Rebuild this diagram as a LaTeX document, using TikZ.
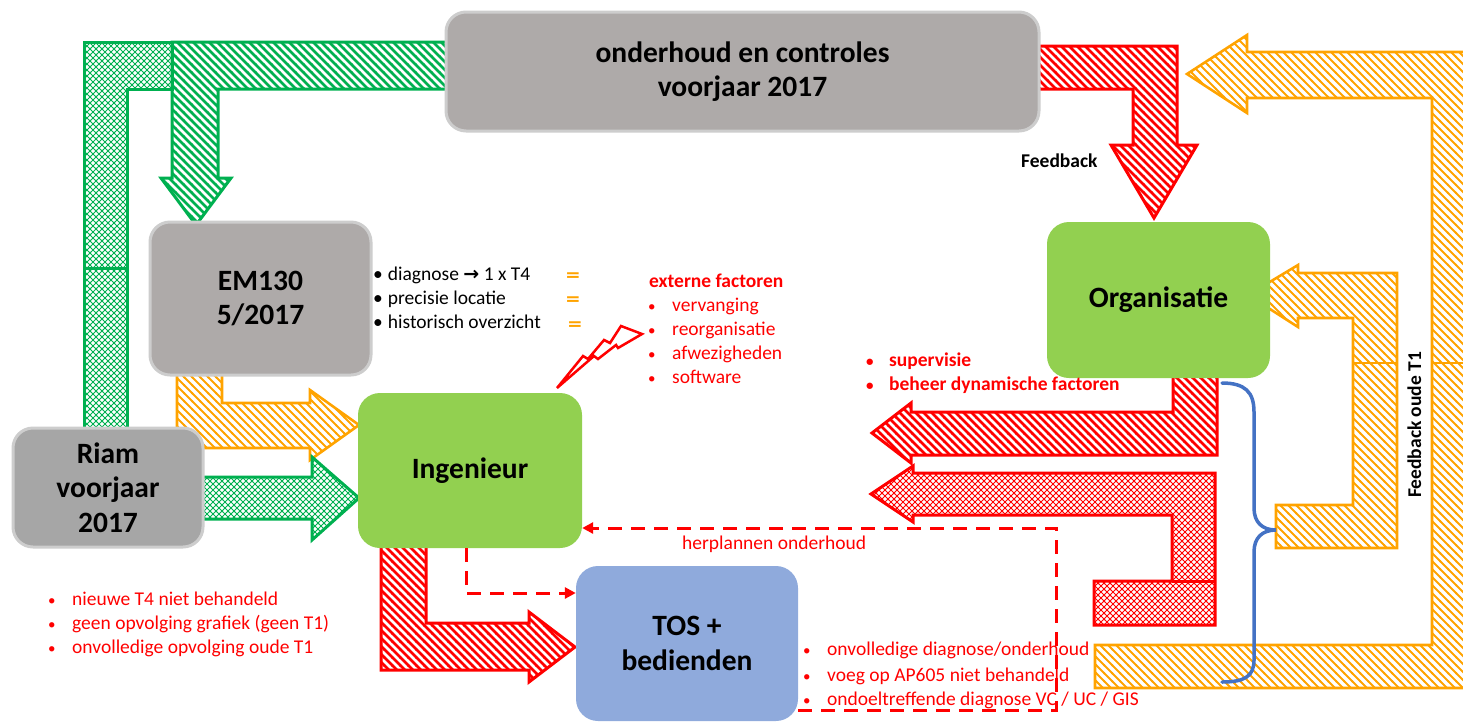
\documentclass[tikz,border=0pt]{standalone}
\usepackage{graphicx}
\usepackage{fontspec}
\setmainfont{Carlito}
\newfontfamily\symfont{DejaVu Sans}
\usetikzlibrary{patterns.meta,arrows.meta}

\definecolor{cRed}{RGB}{255,0,0}
\definecolor{cGreen}{RGB}{0,176,80}
\definecolor{cOrange}{RGB}{255,163,0}
\definecolor{cBlue}{RGB}{68,114,196}
\definecolor{cGray}{RGB}{174,170,169}
\definecolor{cGrayDark}{RGB}{166,166,166}
\definecolor{cBorder}{RGB}{205,205,205}
\definecolor{cLime}{RGB}{146,208,80}
\definecolor{cSky}{RGB}{143,170,220}

% diagonal stripes, two weights
\tikzdeclarepattern{
  name=stripeswide, type=uncolored,
  bottom left={(-1pt,-1pt)}, top right={(9pt,9pt)}, tile size={(8pt,8pt)},
  code={\pgfsetlinewidth{2.6pt}
    \pgfpathmoveto{\pgfqpoint{-1pt}{9pt}}\pgfpathlineto{\pgfqpoint{9pt}{-1pt}}
    \pgfusepath{stroke}}}
\tikzdeclarepattern{
  name=stripesthin, type=uncolored,
  bottom left={(-1pt,-1pt)}, top right={(9pt,9pt)}, tile size={(8pt,8pt)},
  code={\pgfsetlinewidth{2.0pt}
    \pgfpathmoveto{\pgfqpoint{-1pt}{9pt}}\pgfpathlineto{\pgfqpoint{9pt}{-1pt}}
    \pgfusepath{stroke}}}
% fine diamond grid
\tikzdeclarepattern{
  name=diamondgrid, type=uncolored,
  bottom left={(-1pt,-1pt)}, top right={(7pt,7pt)}, tile size={(6pt,6pt)},
  code={\pgfsetlinewidth{0.8pt}
    \pgfpathmoveto{\pgfqpoint{-1pt}{7pt}}\pgfpathlineto{\pgfqpoint{7pt}{-1pt}}
    \pgfpathmoveto{\pgfqpoint{-1pt}{-1pt}}\pgfpathlineto{\pgfqpoint{7pt}{7pt}}
    \pgfusepath{stroke}}}

\newcommand\txtsmall{\fontsize{19.5}{24}\selectfont}
\newcommand\txtbig{\fontsize{29.5}{34.5}\selectfont\bfseries}
\newcommand\bul{\makebox[24pt][l]{\fontsize{15}{15}\selectfont\textbullet}}

\tikzset{
  greenhatch/.style={draw=cGreen, line width=3pt, line join=miter, pattern=stripeswide, pattern color=cGreen},
  greencross/.style={draw=cGreen, line width=3pt, line join=miter, pattern=diamondgrid, pattern color=cGreen},
  redhatch/.style={draw=cRed, line width=3pt, line join=miter, pattern=stripeswide, pattern color=cRed},
  redcross/.style={draw=cRed, line width=3pt, line join=miter, pattern=diamondgrid, pattern color=cRed},
  orangehatch/.style={draw=cOrange, line width=2.6pt, line join=miter, pattern=stripesthin, pattern color=cOrange},
  redline/.style={draw=cRed, line width=3pt},
  orangeline/.style={draw=cOrange, line width=2.6pt},
  dashr/.style={draw=cRed, line width=3pt, dash pattern=on 14pt off 9pt},
  bluebrace/.style={draw=cBlue, line width=3.5pt, line cap=round},
  graybox/.style={rounded corners=20pt, fill=cGray, draw=cBorder, line width=3pt, font=\txtbig, align=center, inner sep=0pt},
  limebox/.style={rounded corners=22pt, fill=cLime, font=\txtbig, align=center, inner sep=0pt},
  skybox/.style={rounded corners=22pt, fill=cSky, font=\txtbig, align=center, inner sep=0pt},
  note/.style={anchor=base west, inner sep=0pt, font=\txtsmall},
  rednote/.style={note, text=cRed},
  equal/.style={anchor=base, inner sep=0pt, font=\fontsize{19}{19}\selectfont\bfseries, text=cOrange},
}

\begin{document}
\begin{tikzpicture}[x=1pt,y=-1pt]
\useasboundingbox (0,0) rectangle (1463,721);
\clip (0,0) rectangle (1463,721);

% ---------- block arrows (behind the boxes) ----------
% from maintenance box down to EM130
\draw[greenhatch] (448,42) -- (172,42) -- (172,178) -- (161,178) -- (196,225) -- (231,178) -- (218,178) -- (218,89) -- (448,89) -- cycle;
% from maintenance box down to Riam
\draw[greencross] (172,42) -- (84,42) -- (84,268) -- (127,268) -- (127,89) -- (172,89) -- cycle;
\draw[greencross] (84,268) rectangle (127,440);
% EM130 -> Ingenieur
\draw[orangehatch] (222,370) -- (222,403) -- (310,403) -- (310,390) -- (359,425) -- (310,460) -- (310,448) -- (177,448) -- (177,370) -- cycle;
% Riam -> Ingenieur
\draw[greencross] (195,477) -- (312,477) -- (312,457) -- (359,498) -- (312,540) -- (312,519) -- (195,519) -- cycle;
% Ingenieur -> TOS
\draw[redhatch] (381,540) -- (381,670) -- (529,670) -- (529,682) -- (575,647) -- (529,612) -- (529,623) -- (426,623) -- (426,540) -- cycle;
% maintenance box -> Organisatie
\draw[redhatch] (1036,46) -- (1177,46) -- (1177,145) -- (1197,145) -- (1154,218) -- (1111,145) -- (1133,145) -- (1133,89) -- (1036,89) -- cycle;
% outer feedback loop back to the maintenance box
\draw[orangehatch] (1095,645) -- (1432,645) -- (1432,98) -- (1247,98) -- (1247,113) -- (1187,74) -- (1247,35) -- (1247,52) -- (1480,52) -- (1480,688) -- (1095,688) -- cycle;
\draw[orangeline] (1432,363) -- (1480,363);
% inner feedback to Organisatie
\draw[orangehatch] (1276,505) -- (1353,505) -- (1353,318) -- (1298,318) -- (1298,327) -- (1248,295) -- (1298,265) -- (1298,273) -- (1397,273) -- (1397,548) -- (1276,548) -- cycle;
\draw[orangeline] (1353,363) -- (1397,363);
% Organisatie -> left (supervision)
\draw[redhatch] (1217,370) -- (1217,455) -- (911,455) -- (911,463) -- (872,433) -- (911,403) -- (911,412) -- (1173,412) -- (1173,370) -- cycle;
% Organisatie -> left (lower)
\draw[redcross] (1215,473) -- (1215,625) -- (1094,625) -- (1094,581) -- (1172,581) -- (1172,515) -- (913,515) -- (913,522) -- (871,494) -- (913,466) -- (913,473) -- cycle;
\draw[redline] (1172,581) -- (1215,581);

% lightning bolt
\draw[cRed, line width=2.5pt, line join=miter, fill=white]
  (557,388) -- (583,356) -- (588,359) -- (604,340) -- (610,343) -- (621,326) -- (642,334)
  -- (618,348) -- (616,345) -- (598,359) -- (594,356) -- cycle;

% brace
\draw[bluebrace] (1222,383) .. controls (1245,383) and (1254,392) .. (1254,412) -- (1254,508)
  .. controls (1254,522) and (1262,530) .. (1276,530)
  .. controls (1262,530) and (1254,538) .. (1254,552) -- (1254,660)
  .. controls (1254,676) and (1245,682) .. (1222,682);

% ---------- boxes ----------
\node[graybox, minimum width=593pt, minimum height=119pt] (top) at (742.5,71.5) {onderhoud en controles\\voorjaar 2017};
\node[graybox, minimum width=221pt, minimum height=153pt] (em) at (260.5,298.5) {EM130\\5/2017};
\node[graybox, fill=cGrayDark, minimum width=190pt, minimum height=119pt] (riam) at (108,487.5) {Riam\\voorjaar\\2017};
\node[limebox, minimum width=224pt, minimum height=155pt] (ing) at (470,470.5) {Ingenieur};
\node[limebox, minimum width=223pt, minimum height=156pt] (org) at (1158.5,300) {Organisatie};
\node[skybox, minimum width=222pt, minimum height=155pt] (tos) at (687,643.5) {TOS +\\bedienden};

% ---------- dashed connectors ----------
\coordinate (d1) at (466,593);
\coordinate (h1) at (1056,710);
\coordinate (h2) at (1056,528);
\draw[dashr, -{Triangle[length=11pt,width=11pt]}] ([xshift=-4pt]ing.south) -- ([xshift=-4pt]ing.south |- d1) -- (tos.west |- d1);
\draw[dashr, -{Triangle[length=11pt,width=11pt]}] (tos.east |- h1) -- (h1) -- (h2) -- (ing.east |- h2);

% ---------- texts ----------
\node[note] (e1) at (373,280) {\textbullet\hspace{5pt}diagnose {\fontsize{19}{19}\selectfont\symfont\bfseries →} 1 x T4};
\node[note] (e2) at (373,304) {\textbullet\hspace{5pt}precisie locatie};
\node[note] (e3) at (373,328) {\textbullet\hspace{5pt}historisch overzicht};
\node[equal] (q1) at (573,282) {\scalebox{1.45}[1.15]{=}};
\node[equal] (q2) at (573,306) {\scalebox{1.45}[1.15]{=}};
\node[equal] (q3) at (575,331) {\scalebox{1.45}[1.15]{=}};

\node[rednote, font=\txtsmall\bfseries] (x0) at (649,287) {externe factoren};
\node[rednote] (x1) at (648,311) {\bul vervanging};
\node[rednote] (x2) at (648,335) {\bul reorganisatie};
\node[rednote] (x3) at (648,359) {\bul afwezigheden};
\node[rednote] (x4) at (648,383) {\bul software};

\node[rednote, font=\txtsmall\bfseries] (s1) at (866,366) {\makebox[23pt][l]{\fontsize{15}{15}\selectfont\textbullet}supervisie};
\node[rednote, font=\txtsmall\bfseries] (s2) at (866,390) {\makebox[23pt][l]{\fontsize{15}{15}\selectfont\textbullet}beheer dynamische factoren};

\node[rednote] (r1) at (48,605) {\bul nieuwe T4 niet behandeld};
\node[rednote] (r2) at (48,629) {\bul geen opvolging grafiek (geen T1)};
\node[rednote] (r3) at (48,653) {\bul onvolledige opvolging oude T1};

\node[rednote] (t1) at (803,655) {\bul onvolledige diagnose/onderhoud};
\node[rednote] (t2) at (803,681) {\bul voeg op AP605 niet behandeld};
\node[rednote] (t3) at (803,705) {\bul ondoeltreffende diagnose VC / UC / GIS};

\node[rednote] (hp) at (682,549) {herplannen onderhoud};
\node[note, font=\txtsmall\bfseries] (fb) at (1021,167) {Feedback};
\node[note, font=\txtsmall\bfseries, rotate=90] (fb2) at (1421,498) {Feedback oude T1};
\end{tikzpicture}
\end{document}
